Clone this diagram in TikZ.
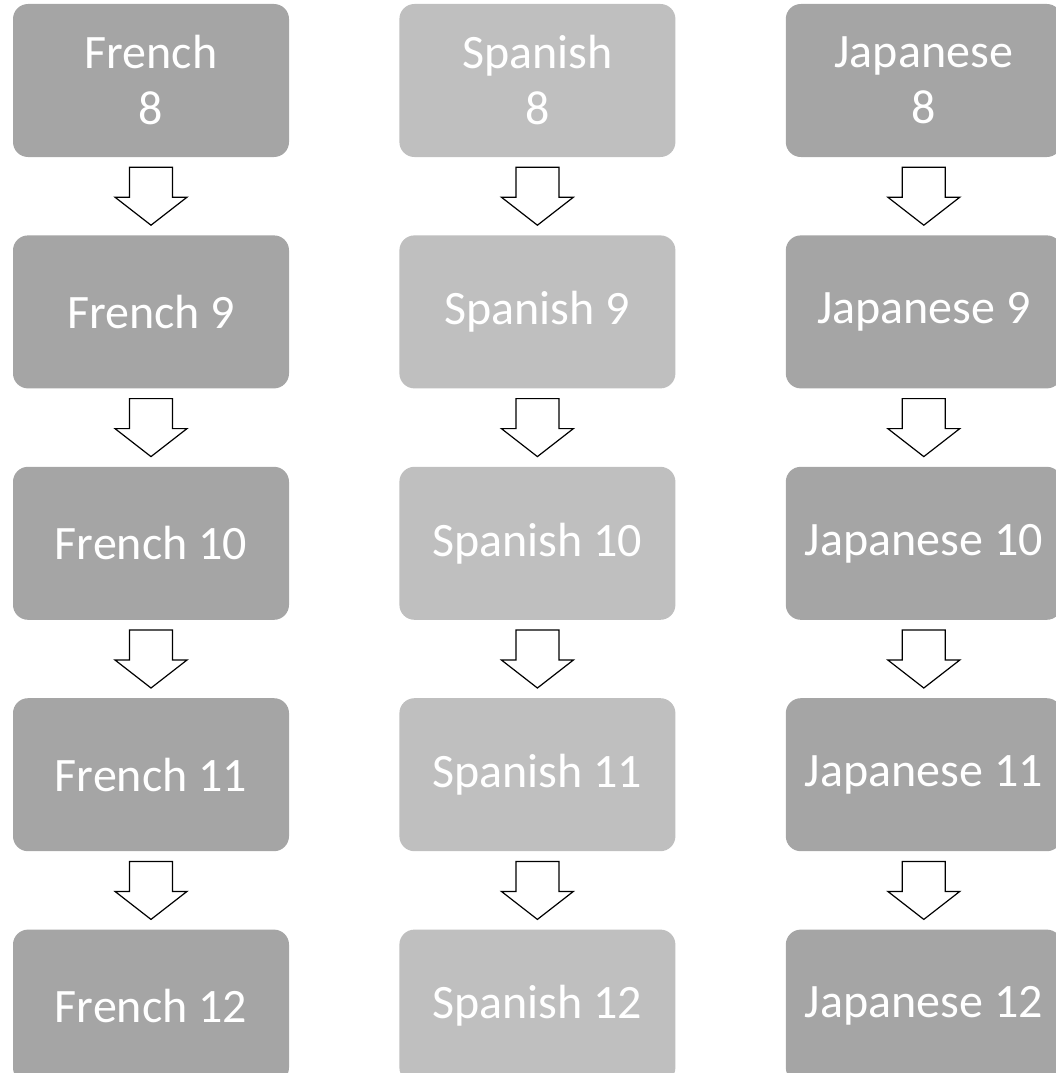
\documentclass[tikz,border=0pt]{standalone}
\usepackage{fontspec}
\setmainfont{Carlito}
\usetikzlibrary{positioning,calc}
\definecolor{DarkBox}{HTML}{A5A5A5}
\definecolor{LightBox}{HTML}{BFBFBF}

\begin{document}
\begin{tikzpicture}[
  x=1pt,y=1pt,
  node distance=78pt and 110pt,
  every node/.style={font=\fontsize{48}{56}\selectfont,align=center,text=white},
  course/.style={rounded corners=15pt,fill=#1,minimum width=276pt,minimum height=153pt,inner sep=0pt},
  blockarr/.style={draw=black,fill=white,line width=1.2pt,line join=miter}
]
\useasboundingbox (0,0) rectangle (1055,-1073);

\node[course=DarkBox] (fr8) at (151,-80.5) {French\\8};
\node[course=DarkBox,below=of fr8] (fr9) {French 9};
\node[course=DarkBox,below=of fr9] (fr10) {French 10};
\node[course=DarkBox,below=of fr10] (fr11) {French 11};
\node[course=DarkBox,below=of fr11] (fr12) {French 12};

\node[course=LightBox,right=of fr8] (sp8) {Spanish\\8};
\node[course=LightBox,below=of sp8] (sp9) {Spanish 9};
\node[course=LightBox,below=of sp9] (sp10) {Spanish 10};
\node[course=LightBox,below=of sp10] (sp11) {Spanish 11};
\node[course=LightBox,below=of sp11] (sp12) {Spanish 12};

\node[course=DarkBox,right=of sp8] (ja8) {Japanese\\8};
\node[course=DarkBox,below=of ja8] (ja9) {Japanese 9};
\node[course=DarkBox,below=of ja9] (ja10) {Japanese 10};
\node[course=DarkBox,below=of ja10] (ja11) {Japanese 11};
\node[course=DarkBox,below=of ja11] (ja12) {Japanese 12};

% block arrows between the grades
\foreach \lang in {fr,sp,ja}
  \foreach \a/\b in {8/9,9/10,10/11,11/12}
    \draw[blockarr] ($(\lang\a.south)+(-21.5,-10)$) -- ++(43,0) -- ++(0,-30)
      -- ++(14.5,0) -- ($(\lang\b.north)+(0,10)$) -- ($(\lang\a.south)+(-36,-40)$)
      -- ++(14.5,0) -- cycle;
\end{tikzpicture}
\end{document}
